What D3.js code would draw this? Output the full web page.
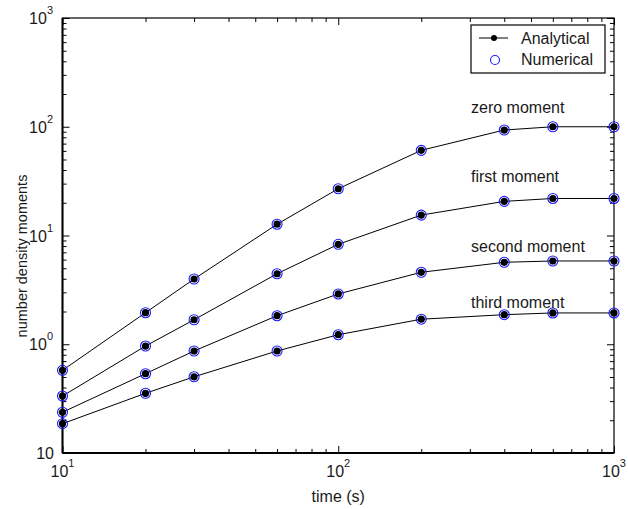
<!DOCTYPE html>
<html>
<head>
<meta charset="utf-8">
<script src="https://cdn.jsdelivr.net/npm/d3@7"></script>
<style>
  html, body { margin: 0; padding: 0; background: #fff; }
  svg { display: block; font-family: "Liberation Sans", Arial, sans-serif; }
</style>
</head>
<body>
<svg id="chart" width="628" height="509"></svg>
<script>
// Sampling times (s)
const times = [10, 20, 30, 60, 100, 200, 400, 600, 1000];

// Moments of the number density at each time
const zeroMoment   = [0.576, 1.95, 3.98, 12.7, 26.9, 60.7, 93.3, 100, 100];
const firstMoment  = [0.334, 0.963, 1.68, 4.45, 8.30, 15.4, 20.6, 21.9, 21.9];
const secondMoment = [0.237, 0.536, 0.867, 1.83, 2.90, 4.59, 5.67, 5.83, 5.83];
const thirdMoment  = [0.186, 0.354, 0.502, 0.867, 1.224, 1.70, 1.87, 1.94, 1.94];

const seriesNames = ["zero moment", "first moment", "second moment", "third moment"];
const seriesValues = [zeroMoment, firstMoment, secondMoment, thirdMoment];

// Decade tick values and their labels (base, exponent)
const xTicks = [10, 100, 1000];
const xTickLabels = [["10", "1"], ["10", "2"], ["10", "3"]];
const yTicks = [0.1, 1, 10, 100, 1000];
const yTickLabels = [["10", ""], ["10", "0"], ["10", "1"], ["10", "2"], ["10", "3"]];

const legendNames = ["Analytical", "Numerical"];

const svg = d3.select("#chart");
const plotLeft = 62.5, plotRight = 614, plotTop = 18, plotBottom = 453;

const x = d3.scaleLog().domain([10, 1000]).range([plotLeft, plotRight]);
const y = d3.scaleLog().domain([0.1, 1000]).range([plotBottom, plotTop]);

// Minor ticks 2..9 within each decade
function minorTicks(lo, hi) {
  const out = [];
  for (let d = lo; d < hi * 0.999; d *= 10) {
    for (let k = 2; k <= 9; k++) out.push(d * k);
  }
  return out;
}
const xMinor = minorTicks(10, 1000);
const yMinor = minorTicks(0.1, 1000);

const majorLen = 7, minorLen = 4;
const axisColor = "#000";

// Inward ticks on all four sides
function tickAxis(axisGen, transform, vals, len) {
  const g = svg.append("g").attr("transform", transform)
    .call(axisGen.tickValues(vals).tickSize(len).tickFormat(""));
  g.select(".domain").remove();
  g.selectAll(".tick line").attr("stroke", axisColor).attr("stroke-width", 1);
  return g;
}
tickAxis(d3.axisTop(x), `translate(0,${plotBottom})`, xTicks, majorLen);
tickAxis(d3.axisTop(x), `translate(0,${plotBottom})`, xMinor, minorLen);
tickAxis(d3.axisBottom(x), `translate(0,${plotTop})`, xTicks, majorLen);
tickAxis(d3.axisBottom(x), `translate(0,${plotTop})`, xMinor, minorLen);
tickAxis(d3.axisRight(y), `translate(${plotLeft},0)`, yTicks, majorLen);
tickAxis(d3.axisRight(y), `translate(${plotLeft},0)`, yMinor, minorLen);
tickAxis(d3.axisLeft(y), `translate(${plotRight},0)`, yTicks, majorLen);
tickAxis(d3.axisLeft(y), `translate(${plotRight},0)`, yMinor, minorLen);

// Frame
svg.append("rect")
  .attr("x", plotLeft).attr("y", plotTop)
  .attr("width", plotRight - plotLeft).attr("height", plotBottom - plotTop)
  .attr("fill", "none").attr("stroke", axisColor).attr("stroke-width", 1.2);
svg.append("line").attr("x1", plotLeft).attr("x2", plotLeft).attr("y1", plotTop).attr("y2", plotBottom)
  .attr("stroke", axisColor).attr("stroke-width", 2);
svg.append("line").attr("x1", plotLeft).attr("x2", plotRight).attr("y1", plotBottom).attr("y2", plotBottom)
  .attr("stroke", axisColor).attr("stroke-width", 2);

// Tick labels with superscript exponents
const fs = 16, supFs = 11;
xTicks.forEach((v, i) => {
  const [b, e] = xTickLabels[i];
  const t = svg.append("text")
    .attr("x", x(v)).attr("y", 477)
    .attr("text-anchor", "middle")
    .attr("font-size", fs).attr("fill", "#1a1a1a");
  t.append("tspan").text(b);
  if (e) t.append("tspan").attr("font-size", supFs).attr("dy", -10).text(e);
});
yTicks.forEach((v, i) => {
  const [b, e] = yTickLabels[i];
  const t = svg.append("text")
    .attr("x", e ? 53 : 54).attr("y", y(v) + 6)
    .attr("text-anchor", "end")
    .attr("font-size", fs).attr("fill", "#1a1a1a");
  t.append("tspan").text(b);
  if (e) t.append("tspan").attr("font-size", supFs).attr("dy", -10).text(e);
});

// Axis titles
svg.append("text")
  .attr("x", (plotLeft + plotRight) / 2).attr("y", 502)
  .attr("text-anchor", "middle").attr("font-size", fs).attr("fill", "#1a1a1a")
  .text("time (s)");
svg.append("text")
  .attr("transform", `translate(27,256) rotate(-90)`)
  .attr("text-anchor", "middle").attr("font-size", 14.5).attr("fill", "#1a1a1a")
  .text("number density moments");

// Series: analytical lines with dots, numerical open circles
const line = d3.line().x(d => x(d[0])).y(d => y(d[1]));
const plot = svg.append("g");
seriesValues.forEach(vals => {
  const pts = times.map((t, i) => [t, vals[i]]);
  plot.append("path").datum(pts)
    .attr("d", line).attr("fill", "none")
    .attr("stroke", "#000").attr("stroke-width", 1);
  plot.selectAll(null).data(pts).enter().append("circle")
    .attr("cx", d => x(d[0])).attr("cy", d => y(d[1]))
    .attr("r", 3.6).attr("fill", "#000");
  plot.selectAll(null).data(pts).enter().append("circle")
    .attr("cx", d => x(d[0])).attr("cy", d => y(d[1]))
    .attr("r", 5).attr("fill", "none")
    .attr("stroke", "#1a1aff").attr("stroke-width", 1.1);
});

// Series labels
const labelY = [113, 182, 252, 308];
seriesNames.forEach((name, i) => {
  svg.append("text")
    .attr("x", 471).attr("y", labelY[i])
    .attr("font-size", fs).attr("fill", "#1a1a1a")
    .text(name);
});

// Legend
const lg = svg.append("g");
lg.append("rect")
  .attr("x", 471).attr("y", 25).attr("width", 134).attr("height", 48)
  .attr("fill", "#fff").attr("stroke", "#000").attr("stroke-width", 1.2);
lg.append("line").attr("x1", 479).attr("x2", 508).attr("y1", 38).attr("y2", 38)
  .attr("stroke", "#000").attr("stroke-width", 1);
lg.append("circle").attr("cx", 494).attr("cy", 38).attr("r", 3).attr("fill", "#000");
lg.append("circle").attr("cx", 495).attr("cy", 60).attr("r", 4.5)
  .attr("fill", "none").attr("stroke", "#1a1aff").attr("stroke-width", 1.1);
legendNames.forEach((name, i) => {
  lg.append("text")
    .attr("x", 521).attr("y", 44 + i * 21)
    .attr("font-size", fs).attr("fill", "#1a1a1a")
    .text(name);
});
</script>
</body>
</html>
